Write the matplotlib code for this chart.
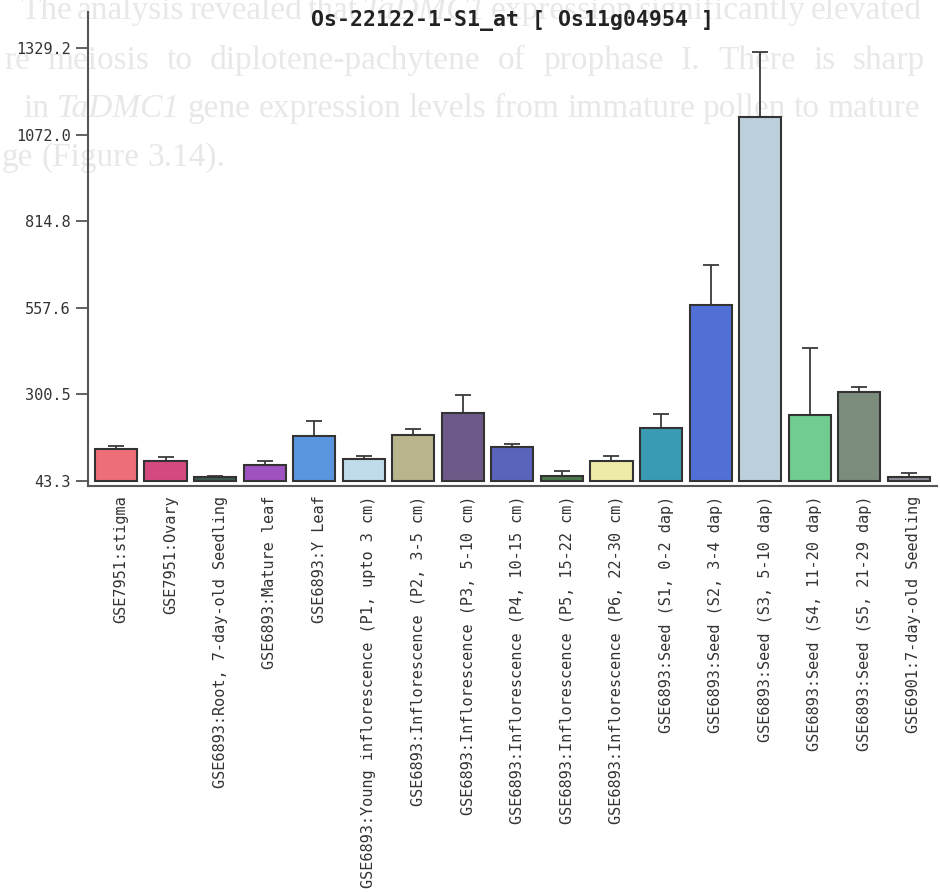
import matplotlib
matplotlib.use("Agg")
import matplotlib.pyplot as plt
import matplotlib.transforms as mtransforms
import numpy as np

# ---- data -------------------------------------------------------------
samples = [
    "GSE7951:stigma",
    "GSE7951:Ovary",
    "GSE6893:Root, 7-day-old Seedling",
    "GSE6893:Mature leaf",
    "GSE6893:Y Leaf",
    "GSE6893:Young inflorescence (P1, upto 3 cm)",
    "GSE6893:Inflorescence (P2, 3-5 cm)",
    "GSE6893:Inflorescence (P3, 5-10 cm)",
    "GSE6893:Inflorescence (P4, 10-15 cm)",
    "GSE6893:Inflorescence (P5, 15-22 cm)",
    "GSE6893:Inflorescence (P6, 22-30 cm)",
    "GSE6893:Seed (S1, 0-2 dap)",
    "GSE6893:Seed (S2, 3-4 dap)",
    "GSE6893:Seed (S3, 5-10 dap)",
    "GSE6893:Seed (S4, 11-20 dap)",
    "GSE6893:Seed (S5, 21-29 dap)",
    "GSE6901:7-day-old Seedling",
]
expression = [138, 104, 56, 90, 177, 110, 180, 245, 144, 57, 104, 200,
              567, 1125, 240, 309, 56]
upper_err = [9, 10, 2, 13, 44, 8, 18, 54, 8, 15, 14, 43,
             118, 193, 197, 13, 10]
bar_colors = ["#EE6E78", "#D44A80", "#3E5A4E", "#A052C0", "#5A96E0",
              "#C0DCEA", "#B8B48C", "#6E5A88", "#5A64BC", "#4C7A50",
              "#EEEAA8", "#3A9CB4", "#5070D8", "#BCD0DC", "#70CC90",
              "#7C8C7C", "#8C909A"]
y_ticks = [43.3, 300.5, 557.6, 814.8, 1072.0, 1329.2]
title = "Os-22122-1-S1_at [ Os11g04954 ]"

# body text of the page the figure sits on (faint, behind the plot)
page_lines = [
    "The analysis revealed that TaDMC1 expression significantly elevated",
    "re meiosis to diplotene-pachytene of prophase I. There is sharp",
    "in TaDMC1 gene expression levels from immature pollen to mature",
    "ge (Figure 3.14).",
]

# ---- figure -----------------------------------------------------------
W, H = 941, 892
fig = plt.figure(figsize=(W / 100, H / 100), dpi=100)
fig.patch.set_facecolor("white")

MONO = "DejaVu Sans Mono"
SERIF = "Liberation Serif"
page_color = "#E8E8E8"

# page text: (left px, right px or None, baseline px)
page_layout = [(20, 922, 19), (4, 925, 69), (23, 920, 117), (2, None, 166)]
word_artists = []
for line, (x0, x1, yb) in zip(page_lines, page_layout):
    words = line.split(" ")
    arts = []
    for w in words:
        style = "italic" if w.startswith("TaDMC1") else "normal"
        t = fig.text(x0 / W, 1 - yb / H, w, fontsize=24, family=SERIF,
                     style=style, color=page_color, ha="left",
                     va="baseline", zorder=-5)
        arts.append(t)
    word_artists.append((arts, x0, x1))

fig.canvas.draw()
renderer = fig.canvas.get_renderer()
for arts, x0, x1 in word_artists:
    widths = [a.get_window_extent(renderer).width for a in arts]
    if x1 is None or len(arts) < 2:
        gap = 8.0
    else:
        gap = (x1 - x0 - sum(widths)) / (len(arts) - 1)
    x = x0
    for a, w in zip(arts, widths):
        a.set_x(x / W)
        x += w + gap

# axes
left_px, right_px, top_px, bottom_px = 88, 937, 12, 486
ax = fig.add_axes([left_px / W, 1 - bottom_px / H,
                   (right_px - left_px) / W, (bottom_px - top_px) / H])
ax.patch.set_alpha(0)

base = 43.3
x = np.arange(len(samples))
heights = [v - base for v in expression]
ax.errorbar(x, expression, yerr=[np.zeros(len(x)), upper_err], fmt="none",
            ecolor="#3A3A3A", elinewidth=1.3, capsize=6, capthick=1.3,
            zorder=2)
ax.bar(x, heights, bottom=base, width=0.85, color=bar_colors,
       edgecolor="#333333", linewidth=1.5, zorder=3)

ax.set_xlim(-0.565, 16.57)
ax.set_ylim(28.5, 1436)

for side in ("top", "right"):
    ax.spines[side].set_visible(False)
for side in ("left", "bottom"):
    ax.spines[side].set_color("#555555")
    ax.spines[side].set_linewidth(1.5)

ax.set_yticks(y_ticks)
ax.set_yticklabels([f"{v:.1f}" for v in y_ticks], family=MONO,
                   fontsize=11, color="#333333")
ax.tick_params(axis="y", length=9, width=1.3, color="#555555", pad=3.5,
               direction="out")

ax.set_xticks(x)
ax.set_xticklabels(samples, rotation=90, family=MONO, fontsize=11,
                   color="#333333", ha="center", va="top")
ax.tick_params(axis="x", length=0, pad=7)
shift = mtransforms.ScaledTranslation(5 / 100, 0, fig.dpi_scale_trans)
for lbl in ax.get_xticklabels():
    lbl.set_transform(lbl.get_transform() + shift)

ax.text(0.5, 0.983, title, transform=ax.transAxes, ha="center", va="center",
        family=MONO, fontweight="bold", fontsize=15.5, color="#222222")

fig.savefig("out.png", dpi=100, facecolor="white")
